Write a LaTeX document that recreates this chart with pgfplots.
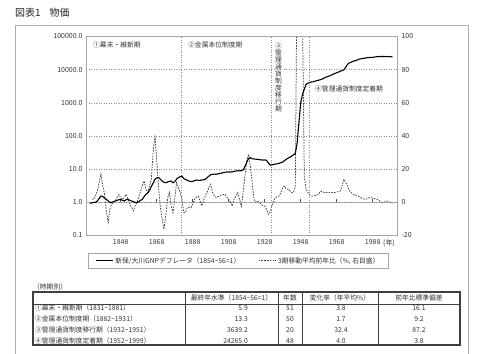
\documentclass[border=0pt]{standalone}
\usepackage{fontspec}
\setmainfont{Noto Sans CJK JP}
\usepackage{pgfplots}
\pgfplotsset{compat=1.18}
\definecolor{gridc}{gray}{0.55}
\definecolor{framec}{gray}{0.68}
\newcommand{\tl}{\textasciitilde}
\begin{document}
\begin{tikzpicture}[x=1bp,y=1bp]
\useasboundingbox (0,0) rectangle (500,353);
\draw[framec, line width=1bp] (15,-5) -- (15,328) -- (468,328) -- (468,-5);
\node[anchor=west, font=\fontsize{10}{12}\selectfont, inner sep=0, text=black!85] at (15,340) {図表1\hspace{9bp}物価};

% right axis (3-year moving average yoy %)
\begin{axis}[
  at={(86bp,117.5bp)}, anchor=south west, scale only axis,
  width=311bp, height=199bp,
  xmin=1828.7, xmax=2001.5, ymin=-20, ymax=100,
  axis y line*=right, axis x line*=middle,
  x axis line style={draw=gray!55, line width=1.6bp},
  y axis line style={draw=gray!70, line width=0.8bp},
  xtick={1848,1868,1888,1908,1928,1948,1968,1988}, xticklabels={},
  x tick style={black!70, line width=0.5bp}, major tick length=3bp,
  ytick={-20,0,20,40,60,80,100}, yticklabels={-20,0,20,40,60,80,100},
  ytick style={draw=none},
  y tick label style={font=\fontsize{7}{8}\selectfont, xshift=1bp, text=black!80},
]
\addplot[black!75, line width=0.75bp, dash pattern=on 1.6bp off 1.2bp] table {
1832 2
1833 1.8
1834 4
1835 6.8
1836 12
1837 17
1838 10
1839 5
1840 -5
1841 -12
1842 -4
1843 -1
1844 0
1845 1
1846 3
1847 4.8
1848 2.5
1849 1.8
1850 3
1851 4.8
1852 2
1853 -1
1854 -3
1855 -5.2
1856 -2
1857 0
1858 3
1859 6.8
1860 10
1861 12.9
1862 8
1863 5.9
1864 10
1865 14
1866 30
1867 40.5
1868 25
1869 10
1870 -3
1871 -10
1872 -16.3
1873 -8
1874 2
1875 5.9
1876 -2
1877 -6.2
1878 2
1879 11.9
1880 9
1881 5.9
1882 2
1883 -6.2
1884 -6
1885 -3
1886 -3
1887 -3.2
1888 -1
1889 1.8
1890 3
1891 3.8
1892 1
1893 -2.2
1894 1
1895 4
1896 5.9
1897 9
1898 10.9
1899 6
1900 4
1901 2.9
1902 3.5
1903 3.8
1904 4.5
1905 4.8
1906 4.8
1907 3
1908 1.8
1909 0
1910 -2.2
1911 2
1912 3.8
1913 5.9
1914 2
1915 -2.2
1916 6
1917 15.9
1918 25
1919 29
1920 22
1921 12
1922 2
1923 0
1924 0.8
1925 0
1926 -1.2
1927 -2
1928 -2.2
1929 -4
1930 -7.2
1931 -6
1932 -2
1933 1
1934 2.8
1935 3.5
1936 3.8
1937 6
1938 8.9
1939 9.8
1940 8
1941 7.9
1942 7
1943 6
1944 5.9
1945 9.8
1946 150
1947 250
1948 200
1949 110
1950 15
1951 8
1952 5.9
1953 4.5
1954 3.8
1955 3.8
1956 4
1957 4.5
1958 4.8
1959 6.8
1960 6.3
1961 6
1962 5.9
1963 5.9
1964 5.9
1965 5.9
1966 5.9
1967 6
1968 6.3
1969 6.5
1970 6.8
1971 10
1972 13.9
1973 12
1974 9.8
1975 7
1976 5.9
1977 5
1978 4.5
1979 4
1980 3.8
1981 3
1982 2.5
1983 2
1984 1.8
1985 2.2
1986 2.8
1987 2.8
1988 2.5
1989 2.3
1990 2
1991 1.5
1992 0.8
1993 0
1994 -0.2
1995 0.5
1996 0.8
1997 0.3
1998 0
1999 -0.5
};
\end{axis}

% left axis (GNP deflator, log)
\begin{axis}[
  at={(86bp,117.5bp)}, anchor=south west, scale only axis,
  width=311bp, height=199bp,
  xmin=1828.7, xmax=2001.5, ymode=log, ymin=0.1, ymax=100000,
  axis line style={draw=gray!70, line width=0.8bp},
  xtick={1848,1868,1888,1908,1928,1948,1968,1988},
  xticklabels={1848,1868,1888,1908,1928,1948,1968,1988},
  ytick={0.1,1,10,100,1000,10000,100000},
  yticklabels={0.1,1.0,10.0,100.0,1000.0,10000.0,100000.0},
  tick style={draw=none}, major tick length=0,
  ymajorgrids, grid style={gridc, dash pattern=on 1bp off 1.5bp, line width=0.6bp},
  tick label style={font=\fontsize{7}{8}\selectfont, text=black!80},
  legend style={at={(0.49,-0.09)}, anchor=north, draw=gray!70, line width=0.6bp,
    font=\fontsize{6.8}{8}\selectfont, text=black!80, inner xsep=7bp, inner ysep=1.5bp},
  legend columns=2,
  /tikz/every even column/.append style={column sep=16bp},
]
\addplot[gridc, dash pattern=on 1bp off 1.5bp, line width=0.7bp, forget plot] coordinates {(1881.5,0.1) (1881.5,100000)};
\addplot[gridc, dash pattern=on 1bp off 1.5bp, line width=0.7bp, forget plot] coordinates {(1931.5,0.1) (1931.5,100000)};
\addplot[gridc, dash pattern=on 1bp off 1.5bp, line width=0.7bp, forget plot] coordinates {(1952.6,0.1) (1952.6,100000)};
\addplot[black, line width=1.1bp] table {
1831 0.93
1832 0.97
1833 1.0
1834 1.0
1835 1.1
1836 1.3
1837 1.55
1838 1.5
1839 1.35
1840 1.23
1841 1.1
1842 1.0
1843 1.0
1844 1.05
1845 1.1
1846 1.15
1847 1.2
1848 1.23
1849 1.15
1850 1.1
1851 1.2
1852 1.23
1853 1.15
1854 1.1
1855 1.05
1856 1.0
1857 0.98
1858 1.05
1859 1.15
1860 1.23
1861 1.5
1862 1.75
1863 1.9
1864 2.3
1865 3.0
1866 3.8
1867 4.95
1868 5.4
1869 5.6
1870 5.0
1871 4.4
1872 4.0
1873 3.9
1874 4.1
1875 4.3
1876 4.4
1877 3.9
1878 4.2
1879 5.0
1880 5.6
1881 5.9
1882 6.2
1883 5.2
1884 4.9
1885 4.6
1886 4.4
1887 4.2
1888 4.3
1889 4.5
1890 4.7
1891 4.6
1892 4.6
1893 4.7
1894 4.8
1895 4.95
1896 5.5
1897 6.2
1898 6.8
1899 7.0
1900 7.1
1901 7.0
1902 7.2
1903 7.4
1904 7.6
1905 7.9
1906 8.0
1907 8.3
1908 8.2
1909 8.2
1910 8.3
1911 8.6
1912 8.8
1913 9.0
1914 8.9
1915 9.0
1916 9.5
1917 12
1918 16
1919 21
1920 22.4
1921 20.5
1922 20.3
1923 20
1924 19.8
1925 19.5
1926 19
1927 18.8
1928 19
1929 18.5
1930 15.5
1931 13.3
1932 13.5
1933 14
1934 14.2
1935 14.6
1936 15
1937 15.8
1938 16.5
1939 18
1940 20
1941 21.5
1942 23
1943 25
1944 27
1945 30
1946 60
1947 250
1948 1000
1949 1800
1950 2600
1951 3639.2
1952 3900
1953 4100
1954 4250
1955 4300
1956 4500
1957 4700
1958 4800
1959 5000
1960 5200
1961 5600
1962 5900
1963 6200
1964 6500
1965 6800
1966 7300
1967 7700
1968 8100
1969 8500
1970 9000
1971 9300
1972 10000
1973 11800
1974 14500
1975 16000
1976 16800
1977 17800
1978 18500
1979 19000
1980 20500
1981 21000
1982 21500
1983 22000
1984 22500
1985 23000
1986 23200
1987 23300
1988 23500
1989 24000
1990 24500
1991 24800
1992 25000
1993 25000
1994 25000
1995 24800
1996 24800
1997 24900
1998 24600
1999 24265
};
\addlegendentry{新保/大川GNPデフレータ（1854\tl 56=1）}
\addlegendimage{black!75, line width=0.75bp, dash pattern=on 1.6bp off 1.2bp}
\addlegendentry{3期移動平均前年比（\%, 右目盛）}
\end{axis}

% period labels
\begin{scope}[every node/.style={font=\fontsize{6.8}{7}\selectfont, text=black!80}]
\node[anchor=west, inner sep=0] at (93,308) {①幕末・維新期};
\node[anchor=west, inner sep=0] at (188,308) {②金属本位制度期};
\node[anchor=west, inner sep=0, fill=white] at (315,264) {④管理通貨制度定着期};
\node[align=center, inner sep=0.5bp, fill=white] at (278.5,275.5) {③\\管\\理\\通\\貨\\制\\度\\移\\行\\期};
\end{scope}
\node[font=\fontsize{7}{8}\selectfont, inner sep=0, text=black!80] at (389,109.7) {(年)};

% table
\begin{scope}[every node/.style={font=\fontsize{6.8}{8}\selectfont, inner sep=0, text=black!80}]
\node[anchor=west] at (33,66) {（時期別）};
\draw[black!75, line width=1.1bp] (33,8) rectangle (460,61);
\draw[black!75, line width=0.8bp] (33,49) -- (460,49);
\foreach \x in {185,278,302,378} \draw[black!75, line width=0.6bp] (\x,8) -- (\x,61);
\node at (231.5,54.7) {最終年水準（1854\tl 56=1）};
\node at (290,54.7) {年数};
\node at (340,54.7) {変化率（年平均\%）};
\node at (419,54.7) {前年比標準偏差};
\node[anchor=west] at (35,44.7) {①幕末・維新期（1831\tl 1881）};
\node[anchor=west] at (35,33.7) {②金属本位制度期（1882\tl 1931）};
\node[anchor=west] at (35,23) {③管理通貨制度移行期（1932\tl 1951）};
\node[anchor=west] at (35,12) {④管理通貨制度定着期（1952\tl 1999）};
\node[anchor=east] at (248,44.7) {5.9};
\node[anchor=east] at (248,33.7) {13.3};
\node[anchor=east] at (248,23) {3639.2};
\node[anchor=east] at (248,12) {24265.0};
\node at (290,44.7) {51};
\node at (290,33.7) {50};
\node at (290,23) {20};
\node at (290,12) {48};
\node at (341,44.7) {3.8};
\node at (341,33.7) {1.7};
\node at (341,23) {32.4};
\node at (341,12) {4.0};
\node at (419,44.7) {16.1};
\node at (419,33.7) {9.2};
\node at (419,23) {87.2};
\node at (419,12) {3.8};
\end{scope}
\end{tikzpicture}
\end{document}
